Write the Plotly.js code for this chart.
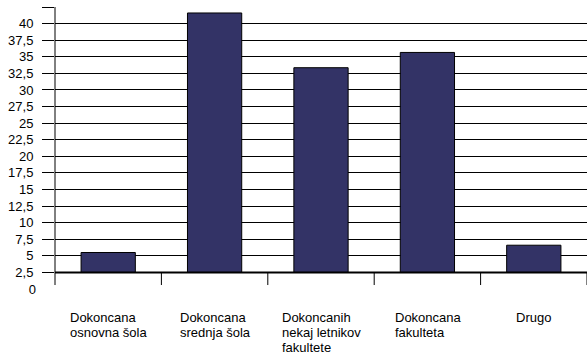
<!DOCTYPE html>
<html>
<head>
<meta charset="utf-8">
<script src="https://cdn.plot.ly/plotly-3.0.1.min.js"></script>
<style>
  html, body { margin: 0; padding: 0; background: #fff; }
  #chart { width: 587px; height: 353px; }
</style>
</head>
<body>
<div id="chart"></div>
<script>
// Education level categories (each entry is the label split into lines)
const categoryLines = [
  ["Dokoncana", "osnovna šola"],
  ["Dokoncana", "srednja šola"],
  ["Dokoncanih", "nekaj letnikov", "fakultete"],
  ["Dokoncana", "fakulteta"],
  ["Drugo"]
];
// Share per category
const values = [5.5, 41.6, 33.35, 35.65, 6.6];
// Value at which the category axis crosses the value axis
const axisCross = 2.5;
// Value axis ticks and their labels
const yTickVals = [2.5, 5, 7.5, 10, 12.5, 15, 17.5, 20, 22.5, 25, 27.5, 30, 32.5, 35, 37.5, 40, 42.5];
const yTickText = ["2,5", "5", "7,5", "10", "12,5", "15", "17,5", "20", "22,5", "25", "27,5", "30", "32,5", "35", "37,5", "40", ""];
const yBottomVal = 0;
const yBottomText = "0";

const FONT = '"Liberation Sans", Arial, sans-serif';
const FONT_SIZE = 13;
const yRange = [0, 42.5];

const categoryNames = categoryLines.map(l => l.join(" "));

// Bars rise from the axis crossing value
const trace = {
  type: "bar",
  x: categoryNames,
  y: values.map(v => v - axisCross),
  base: axisCross,
  marker: { color: "#333366", line: { color: "#000000", width: 1 } },
  hoverinfo: "skip"
};

// Category labels: one annotation per line, left-aligned block centred under each category
const ctx = document.createElement("canvas").getContext("2d");
ctx.font = FONT_SIZE + "px " + FONT;
const annotations = [];
categoryLines.forEach((lines, i) => {
  const maxW = Math.max(...lines.map(t => ctx.measureText(t).width));
  lines.forEach((t, j) => {
    annotations.push({
      x: i, xref: "x", xanchor: "left", xshift: -maxW / 2 - 2,
      y: 0, yref: "paper", yanchor: "middle", yshift: -28 - 15 * j,
      text: t, showarrow: false, align: "left",
      font: { family: FONT, size: FONT_SIZE, color: "#000" }
    });
  });
});

// Category axis line at the crossing value, its divider ticks and the value axis line
const shapes = [
  { type: "line", xref: "paper", yref: "y", x0: 0, x1: 0, y0: 0.6, y1: yRange[1],
    line: { color: "#000", width: 1 } },
  { type: "line", xref: "paper", yref: "y", x0: 0, x1: 1, y0: axisCross, y1: axisCross,
    line: { color: "#000", width: 2 } }
];
for (let k = 0; k < categoryLines.length; k++) {
  shapes.push({ type: "line", xref: "x", yref: "y", x0: k + 0.5, x1: k + 0.5,
    y0: axisCross, y1: 0.6, line: { color: "#000", width: 1 } });
}

const layout = {
  width: 587, height: 353,
  margin: { l: 55, r: 0, t: 7, b: 64 },
  paper_bgcolor: "#fff", plot_bgcolor: "#fff",
  showlegend: false,
  bargap: 0.49,
  font: { family: FONT, size: FONT_SIZE, color: "#000" },
  xaxis: {
    type: "category", range: [-0.5, categoryLines.length - 0.5],
    showticklabels: false, ticks: "", showgrid: false, zeroline: false, showline: false,
    fixedrange: true
  },
  yaxis: {
    range: yRange, tickmode: "array", tickvals: yTickVals, ticktext: yTickText,
    ticks: "outside", ticklen: 12, tickcolor: "#000", tickwidth: 1,
    showgrid: true, gridcolor: "#000", gridwidth: 1,
    zeroline: false, showline: false, ticklabelstandoff: 6,
    tickfont: { family: FONT, size: FONT_SIZE, color: "#000" }
  },
  yaxis2: {
    overlaying: "y", side: "left", range: yRange,
    tickmode: "array", tickvals: [yBottomVal], ticktext: [yBottomText],
    ticks: "", showgrid: false, zeroline: false, showline: false,
    ticklabelstandoff: 18,
    tickfont: { family: FONT, size: FONT_SIZE, color: "#000" }
  },
  shapes: shapes,
  annotations: annotations
};

// invisible trace that carries the bottom value label axis
const helper = { type: "scatter", x: [categoryNames[0]], y: [yBottomVal], yaxis: "y2",
  mode: "markers", marker: { opacity: 0 }, hoverinfo: "skip" };

Plotly.newPlot("chart", [trace, helper], layout, { staticPlot: true, displayModeBar: false });
</script>
</body>
</html>
